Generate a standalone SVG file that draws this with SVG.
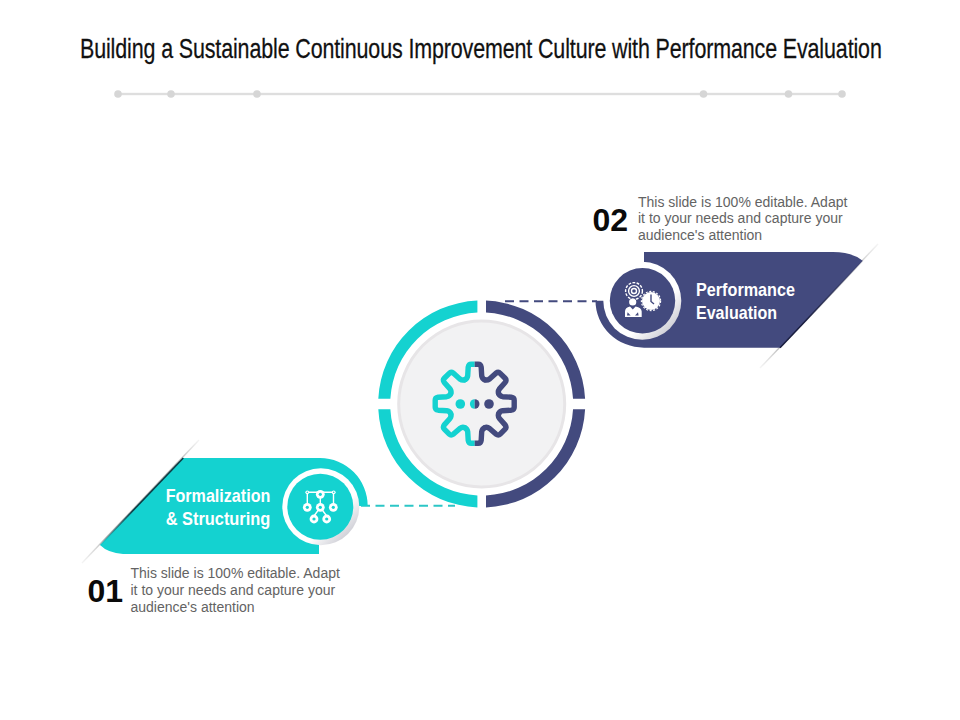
<svg xmlns="http://www.w3.org/2000/svg" xmlns:xlink="http://www.w3.org/1999/xlink" width="960" height="720" viewBox="0 0 960 720">
<style>
.teal{fill:#14D2D0}
.navy{fill:#434A7E}
.title{font-family:"Liberation Sans",Arial,sans-serif;font-size:27.5px;fill:#111;stroke:#111;stroke-width:0.25}
.label{font-family:"Liberation Sans",Arial,sans-serif;font-size:18.5px;font-weight:700;fill:#fff}
.desc{font-family:"Liberation Sans",Arial,sans-serif;font-size:14px;fill:#636363}
.num{font-family:"Liberation Sans",Arial,sans-serif;font-size:32px;font-weight:700;fill:#0a0a0a}
.dot{fill:#D6D6D6}
.gearline{fill:none;stroke-width:5.4;stroke-linejoin:round;stroke-linecap:round}
.ic{fill:none;stroke:#fff;stroke-width:1.4}
.icf{fill:#fff}
</style>
<defs>
<linearGradient id="ringShade" x1="0.2" y1="0.2" x2="0.85" y2="0.85">
<stop offset="0.68" stop-color="#fff"/><stop offset="1" stop-color="#d2d2d9"/>
</linearGradient>
<linearGradient id="slashA" gradientUnits="userSpaceOnUse" x1="878" y1="244" x2="760" y2="368">
<stop offset="0" stop-color="#ccc" stop-opacity="0.2"/><stop offset="0.2" stop-color="#bbb"/><stop offset="0.8" stop-color="#aaa"/><stop offset="1" stop-color="#ccc" stop-opacity="0.2"/>
</linearGradient>
<linearGradient id="slashB" gradientUnits="userSpaceOnUse" x1="199" y1="440" x2="82" y2="563">
<stop offset="0" stop-color="#ccc" stop-opacity="0.2"/><stop offset="0.2" stop-color="#aaa"/><stop offset="0.8" stop-color="#bbb"/><stop offset="1" stop-color="#ccc" stop-opacity="0.2"/>
</linearGradient>
<linearGradient id="edgeA" gradientUnits="userSpaceOnUse" x1="862" y1="261" x2="780" y2="348">
<stop offset="0" stop-color="#1a1e40" stop-opacity="0.1"/><stop offset="0.7" stop-color="#1a1e40"/><stop offset="1" stop-color="#1a1e40"/>
</linearGradient>
<linearGradient id="edgeB" gradientUnits="userSpaceOnUse" x1="183" y1="458" x2="100" y2="545">
<stop offset="0" stop-color="#0b3c44"/><stop offset="0.6" stop-color="#0b3c44"/><stop offset="1" stop-color="#0b3c44" stop-opacity="0.1"/>
</linearGradient>
<clipPath id="gearL"><rect x="420" y="350" width="54.7" height="110"/></clipPath>
<clipPath id="gearR"><rect x="474.7" y="350" width="54.7" height="110"/></clipPath>
<path id="tooth" d="M-9.95 -24 Q-7.5 -25 -7 -28 L-6.5 -36.5 Q-6 -39.5 -3.5 -39.5 L3.5 -39.5 Q6 -39.5 6.5 -36.5 L7 -28 Q7.5 -25 9.95 -24"/>
<g id="gearShape">
<use xlink:href="#tooth" href="#tooth"/>
<use xlink:href="#tooth" href="#tooth" transform="rotate(45)"/>
<use xlink:href="#tooth" href="#tooth" transform="rotate(90)"/>
<use xlink:href="#tooth" href="#tooth" transform="rotate(135)"/>
<use xlink:href="#tooth" href="#tooth" transform="rotate(180)"/>
<use xlink:href="#tooth" href="#tooth" transform="rotate(225)"/>
<use xlink:href="#tooth" href="#tooth" transform="rotate(270)"/>
<use xlink:href="#tooth" href="#tooth" transform="rotate(315)"/>
</g>
</defs>
<rect width="960" height="720" fill="#fff"/>

<g id="title">
<text class="title" transform="translate(80 58) scale(0.78 1)" x="0" y="0" textLength="1028" lengthAdjust="spacing">Building a Sustainable Continuous Improvement Culture with Performance Evaluation</text>
</g>
<g id="divider">
<rect x="118" y="92.8" width="724" height="2.4" fill="#DEDEDE"/>
<circle class="dot" cx="118" cy="94" r="3.8"/>
<circle class="dot" cx="171" cy="94" r="3.8"/>
<circle class="dot" cx="257" cy="94" r="3.8"/>
<circle class="dot" cx="703.5" cy="94" r="3.8"/>
<circle class="dot" cx="788.5" cy="94" r="3.8"/>
<circle class="dot" cx="842" cy="94" r="3.8"/>
</g>

<g id="connectors" fill="none" stroke-width="2" stroke-dasharray="9 5.5">
<path d="M505 301.2H597" stroke="#434A7E"/>
<path d="M361 505.8H455" stroke="#2CC6C6"/>
</g>

<g id="hub">
<path class="teal" d="M477.4 300.6A103.5 103.5 0 0 0 378.3 398.7L390.35 398.7A91.5 91.5 0 0 1 477.4 312.6Z"/>
<path class="navy" d="M486 300.6A103.5 103.5 0 0 1 585.1 398.7L573.05 398.7A91.5 91.5 0 0 0 486 312.6Z"/>
<path class="teal" d="M477.4 507.4A103.5 103.5 0 0 1 378.3 409.3L390.35 409.3A91.5 91.5 0 0 0 477.4 495.4Z"/>
<path class="navy" d="M486 507.4A103.5 103.5 0 0 0 585.1 409.3L573.05 409.3A91.5 91.5 0 0 1 486 495.4Z"/>
<circle cx="481.7" cy="404" r="83" fill="#F2F2F3" stroke="#E7E5E7" stroke-width="3"/>
<g clip-path="url(#gearL)"><use xlink:href="#gearShape" href="#gearShape" transform="translate(474.7 403.7)" class="gearline" stroke="#14D2D0"/><circle cx="474.7" cy="404" r="4.8" fill="#14D2D0"/></g>
<g clip-path="url(#gearR)"><use xlink:href="#gearShape" href="#gearShape" transform="translate(474.7 403.7)" class="gearline" stroke="#434A7E"/><circle cx="474.7" cy="404" r="4.8" fill="#434A7E"/></g>
<circle cx="460.3" cy="404" r="4.8" fill="#14D2D0"/>
<circle cx="489" cy="404" r="4.8" fill="#434A7E"/>
</g>

<g id="node-02">
<path d="M878 244L760 368" stroke="url(#slashA)" stroke-width="1.4" fill="none"/>
<path class="navy" d="M644 252H833Q852 252 862.7 260.7L780 347.7H644A48.5 47 0 0 1 595.5 300.7H644Z"/>
<path d="M862.7 260.7L780 347.7" stroke="url(#edgeA)" stroke-width="1.6" fill="none"/>
<circle cx="642.3" cy="300.8" r="39" fill="url(#ringShade)"/>
<circle class="navy" cx="642.5" cy="300.8" r="32.7"/>
<g id="icon-02">
<circle class="ic" cx="634" cy="291" r="8.4" stroke-dasharray="2.8 1.4" stroke-width="1.6"/>
<circle class="ic" cx="634" cy="291" r="5.4"/>
<circle class="ic" cx="634" cy="291" r="2.5"/>
<circle class="icf" cx="632.7" cy="302" r="3.6"/>
<path class="icf" d="M625 317V311.5Q625 307.5 630 306.5L632.8 309.5L635.6 306.5Q641.5 307.5 641.7 311.5V317ZM627 315.4H630.6L627.6 312.3ZM638.6 315.4H635L638 312.3Z" fill-rule="evenodd"/>
<circle class="icf" cx="651" cy="301" r="9"/>
<circle cx="651" cy="301" r="9.6" fill="none" stroke="#fff" stroke-width="1.2" stroke-dasharray="2 1.6"/>
<path d="M651 294.5V301.5L654 304" fill="none" stroke="#434A7E" stroke-width="1.4"/>
</g>
<text class="label" x="696" y="295.7" textLength="99" lengthAdjust="spacingAndGlyphs">Performance</text>
<text class="label" x="696" y="319" textLength="81" lengthAdjust="spacingAndGlyphs">Evaluation</text>
<text class="num" x="592.5" y="230.5">02</text>
<text class="desc" x="638" y="206.5">This slide is 100% editable. Adapt</text>
<text class="desc" x="638" y="223">it to your needs and capture your</text>
<text class="desc" x="638" y="240">audience's attention</text>
</g>

<g id="node-01">
<path d="M199 440L82 563" stroke="url(#slashB)" stroke-width="1.4" fill="none"/>
<path class="teal" d="M183.3 458H320A47.7 48 0 0 1 367.7 506H319V554H123Q108 553 100 545Z"/>
<path d="M183.3 458L100 545" stroke="url(#edgeB)" stroke-width="1.6" fill="none"/>
<circle cx="320.8" cy="506.7" r="38.5" fill="url(#ringShade)"/>
<circle class="teal" cx="320.3" cy="506.7" r="33"/>
<g id="icon-01">
<path class="ic" stroke-width="1" d="M307.3 492.3H333.7M307.3 492.3V507.3M333.5 492.3V507.3M320.3 494V507.3M314 516L320.3 507.3L326.7 516"/>
<circle class="icf" cx="307.3" cy="492.3" r="1.9"/><circle class="teal" cx="307.3" cy="492.3" r="0.8"/>
<circle class="icf" cx="333.7" cy="492.3" r="1.9"/><circle class="teal" cx="333.7" cy="492.3" r="0.8"/>
<circle class="icf" cx="320.3" cy="494.3" r="4.4"/><circle class="teal" cx="320.3" cy="494.3" r="1.6"/>
<circle class="icf" cx="307.3" cy="507.3" r="4.4"/><circle class="teal" cx="307.3" cy="507.3" r="1.6"/>
<circle class="icf" cx="320.3" cy="507.3" r="4.4"/><circle class="teal" cx="320.3" cy="507.3" r="1.6"/>
<circle class="icf" cx="333.3" cy="507.3" r="4.4"/><circle class="teal" cx="333.3" cy="507.3" r="1.6"/>
<circle class="icf" cx="314" cy="519" r="4.4"/><circle class="teal" cx="314" cy="519" r="1.6"/>
<circle class="icf" cx="326.7" cy="519" r="4.4"/><circle class="teal" cx="326.7" cy="519" r="1.6"/>
</g>
<text class="label" x="165.7" y="501.7" textLength="104.6" lengthAdjust="spacingAndGlyphs">Formalization</text>
<text class="label" x="165.7" y="525" textLength="104.6" lengthAdjust="spacingAndGlyphs">&amp; Structuring</text>
<text class="num" x="87.5" y="601.5">01</text>
<text class="desc" x="130.5" y="578">This slide is 100% editable. Adapt</text>
<text class="desc" x="130.5" y="595">it to your needs and capture your</text>
<text class="desc" x="130.5" y="611.5">audience's attention</text>
</g>
</svg>
